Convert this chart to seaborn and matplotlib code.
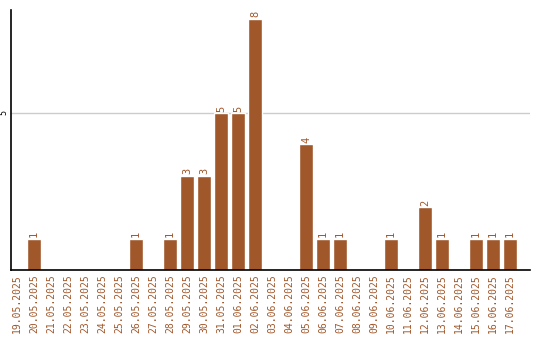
import matplotlib
matplotlib.use("Agg")
import matplotlib.pyplot as plt
import seaborn as sns
import pandas as pd

dates = ["19.05.2025", "20.05.2025", "21.05.2025", "22.05.2025", "23.05.2025",
         "24.05.2025", "25.05.2025", "26.05.2025", "27.05.2025", "28.05.2025",
         "29.05.2025", "30.05.2025", "31.05.2025", "01.06.2025", "02.06.2025",
         "03.06.2025", "04.06.2025", "05.06.2025", "06.06.2025", "07.06.2025",
         "08.06.2025", "09.06.2025", "10.06.2025", "11.06.2025", "12.06.2025",
         "13.06.2025", "14.06.2025", "15.06.2025", "16.06.2025", "17.06.2025"]
counts = [0, 1, 0, 0, 0, 0, 0, 1, 0, 1,
          3, 3, 5, 5, 8, 0, 0, 4, 1, 1,
          0, 0, 1, 0, 2, 1, 0, 1, 1, 1]

color = "#A0572A"
sns.set_theme(style="white")
plt.rcParams['font.family'] = ['DejaVu Sans Mono']

df = pd.DataFrame({"date": dates, "count": counts})
fig = plt.figure(figsize=(5.4, 3.4), dpi=100)
ax = fig.add_axes([11/540, 70/340, 519/540, 260/340])
sns.barplot(data=df, x="date", y="count", color=color, saturation=1,
            width=0.82, ax=ax, order=dates)

ax.set_xlim(-0.35, 30.18)
ax.set_ylim(0, 8.28)
ax.set_yticks([5])
ax.set_yticklabels(["5"], rotation=90, fontsize=6, va="center")
ax.tick_params(axis="y", length=0, pad=2, colors="black")
ax.tick_params(axis="x", length=0, pad=3)
ax.set_xticks(range(len(dates)))
ax.set_xticklabels(dates, rotation=90, fontsize=7, color=color)
ax.grid(axis="y", color="#cccccc", linewidth=1)
ax.set_axisbelow(True)
ax.set_xlabel("")
ax.set_ylabel("")
for s in ["top", "right"]:
    ax.spines[s].set_visible(False)
for s in ["left", "bottom"]:
    ax.spines[s].set_color("black")
    ax.spines[s].set_linewidth(1.2)

labels = [str(c) if c > 0 else "" for c in counts]
ax.bar_label(ax.containers[0], labels=labels, rotation=90, fontsize=7.5,
             color=color, padding=1)

fig.savefig("out.png", dpi=100)
